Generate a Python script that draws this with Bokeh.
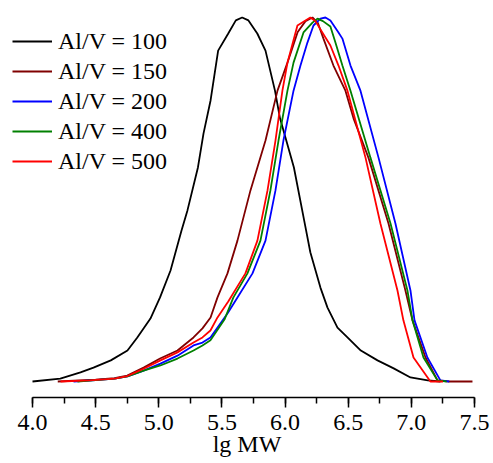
from bokeh.plotting import figure
from bokeh.models import Legend, LegendItem, SingleIntervalTicker, PrintfTickFormatter, Range1d
from bokeh.embed import file_html
from bokeh.resources import INLINE

# Al/V = 100
x_100 = [4.00, 4.22, 4.38, 4.483, 4.62, 4.752, 4.83, 4.934, 5.01, 5.093, 5.18, 5.227, 5.31, 5.354, 5.41, 5.47,
         5.55, 5.61, 5.66, 5.71, 5.78, 5.845, 5.92, 5.96, 6.07, 6.16, 6.20, 6.28, 6.336, 6.415, 6.494,
         6.60, 6.732, 6.86, 6.993, 7.13, 7.23]
y_100 = [0.0, 0.008, 0.025, 0.038, 0.058, 0.085, 0.121, 0.173, 0.231, 0.305, 0.415, 0.470, 0.588, 0.681, 0.772, 0.909,
         0.956, 0.992, 1.0, 0.992, 0.956, 0.909, 0.799, 0.723, 0.588, 0.427, 0.355, 0.258, 0.203, 0.148, 0.121,
         0.085, 0.058, 0.036, 0.011, 0.003, 0.0]

# Al/V = 150
x_150 = [4.20, 4.50, 4.65, 4.75, 4.88, 5.01, 5.148, 5.275, 5.346, 5.41, 5.465, 5.544, 5.623, 5.726, 5.845, 5.94,
         6.019, 6.10, 6.162, 6.217, 6.26, 6.304, 6.383, 6.478, 6.542, 6.66, 6.819, 6.953, 7.009, 7.112, 7.207,
         7.30, 7.484]
y_150 = [0.0, 0.005, 0.009, 0.016, 0.038, 0.063, 0.085, 0.121, 0.146, 0.176, 0.231, 0.297, 0.387, 0.525, 0.662, 0.799,
         0.876, 0.96, 0.99, 1.0, 0.985, 0.942, 0.868, 0.799, 0.723, 0.615, 0.434, 0.250, 0.168, 0.066, 0.003,
         0.0, 0.0]

# Al/V = 200
x_200 = [4.325, 4.50, 4.65, 4.752, 4.88, 5.013, 5.148, 5.275, 5.346, 5.409, 5.544, 5.623, 5.742, 5.845, 5.924, 5.987,
         6.067, 6.122, 6.177, 6.225, 6.28, 6.32, 6.359, 6.423, 6.454, 6.518, 6.597, 6.74, 6.874, 6.993, 7.025,
         7.127, 7.23, 7.30]
y_200 = [0.0, 0.004, 0.008, 0.014, 0.030, 0.049, 0.071, 0.099, 0.107, 0.121, 0.187, 0.231, 0.297, 0.387, 0.525, 0.662,
         0.799, 0.868, 0.931, 0.978, 0.997, 1.0, 0.992, 0.959, 0.942, 0.868, 0.799, 0.615, 0.434, 0.250, 0.168,
         0.066, 0.003, 0.0]

# Al/V = 400
x_400 = [4.356, 4.50, 4.65, 4.752, 4.88, 5.013, 5.148, 5.275, 5.346, 5.409, 5.52, 5.591, 5.702, 5.805, 5.884, 5.948,
         6.019, 6.067, 6.146, 6.217, 6.257, 6.30, 6.359, 6.40, 6.454, 6.518, 6.676, 6.835, 6.969, 7.009, 7.096,
         7.207, 7.28]
y_400 = [0.0, 0.004, 0.008, 0.014, 0.030, 0.044, 0.063, 0.085, 0.099, 0.113, 0.17, 0.231, 0.297, 0.387, 0.525, 0.662,
         0.799, 0.876, 0.959, 0.986, 0.997, 0.99, 0.975, 0.93, 0.868, 0.799, 0.615, 0.434, 0.250, 0.168, 0.066,
         0.003, 0.0]

# Al/V = 500
x_500 = [4.222, 4.45, 4.65, 4.752, 4.88, 5.013, 5.148, 5.275, 5.346, 5.409, 5.465, 5.55, 5.686, 5.781, 5.861, 5.924,
         5.979, 6.019, 6.098, 6.20, 6.24, 6.359, 6.423, 6.494, 6.637, 6.755, 6.89, 6.937, 7.017, 7.151, 7.25]
y_500 = [0.0, 0.003, 0.008, 0.015, 0.035, 0.058, 0.080, 0.107, 0.121, 0.140, 0.176, 0.22, 0.297, 0.387, 0.525, 0.662,
         0.799, 0.876, 0.978, 1.0, 0.99, 0.923, 0.868, 0.799, 0.615, 0.434, 0.250, 0.168, 0.066, 0.0, 0.0]

labels = ["Al/V = 100", "Al/V = 150", "Al/V = 200", "Al/V = 400", "Al/V = 500"]
colors = ["#000000", "#800000", "#0000FF", "#008000", "#FF0000"]
xs = [x_100, x_150, x_200, x_400, x_500]
ys = [y_100, y_150, y_200, y_400, y_500]

x_lo, x_hi = 4.0, 7.5

FONT = "Liberation Serif"

p = figure(width=493, height=463, output_backend="svg", toolbar_location=None,
           x_range=Range1d(3.7466, 7.6505), y_range=Range1d(-0.044, 1.0467),
           y_axis_location=None, min_border_left=0, min_border_right=0, min_border_top=0,
           min_border_bottom=66)
p.outline_line_color = None
p.xgrid.visible = False
p.ygrid.visible = False
p.background_fill_color = None
p.border_fill_color = "white"

renderers = []
for xv, yv, c in zip(xs, ys, colors):
    r = p.line(xv, yv, line_color=c, line_width=1.8)
    renderers.append(r)

ax = p.xaxis[0]
ax.bounds = (x_lo, x_hi)
ax.ticker = SingleIntervalTicker(interval=0.5, num_minor_ticks=2)
ax.formatter = PrintfTickFormatter(format="%.1f")
ax.axis_line_width = 1.5
ax.axis_line_color = "black"
ax.major_tick_line_color = "black"
ax.minor_tick_line_color = "black"
ax.major_tick_line_width = 1.5
ax.minor_tick_line_width = 1.5
ax.major_tick_in = 0
ax.major_tick_out = 10
ax.minor_tick_in = 0
ax.minor_tick_out = 6
ax.major_label_text_font = FONT
ax.major_label_text_font_size = "24px"
ax.major_label_text_color = "black"
ax.major_label_standoff = 7
ax.axis_label = "lg MW"
ax.axis_label_text_font = FONT
ax.axis_label_text_font_size = "24px"
ax.axis_label_text_font_style = "normal"
ax.axis_label_text_color = "black"
ax.axis_label_standoff = -2

items = [LegendItem(label=l, renderers=[r]) for l, r in zip(labels, renderers)]
legend = Legend(items=items, location=(12, 221), glyph_width=40, glyph_height=30,
                label_height=30, label_standoff=6, spacing=0, padding=0, margin=0,
                border_line_color=None, background_fill_alpha=0,
                label_text_font=FONT, label_text_font_size="24px", label_text_color="black")
p.add_layout(legend)

open("out.html", "w").write(file_html(p, INLINE))
